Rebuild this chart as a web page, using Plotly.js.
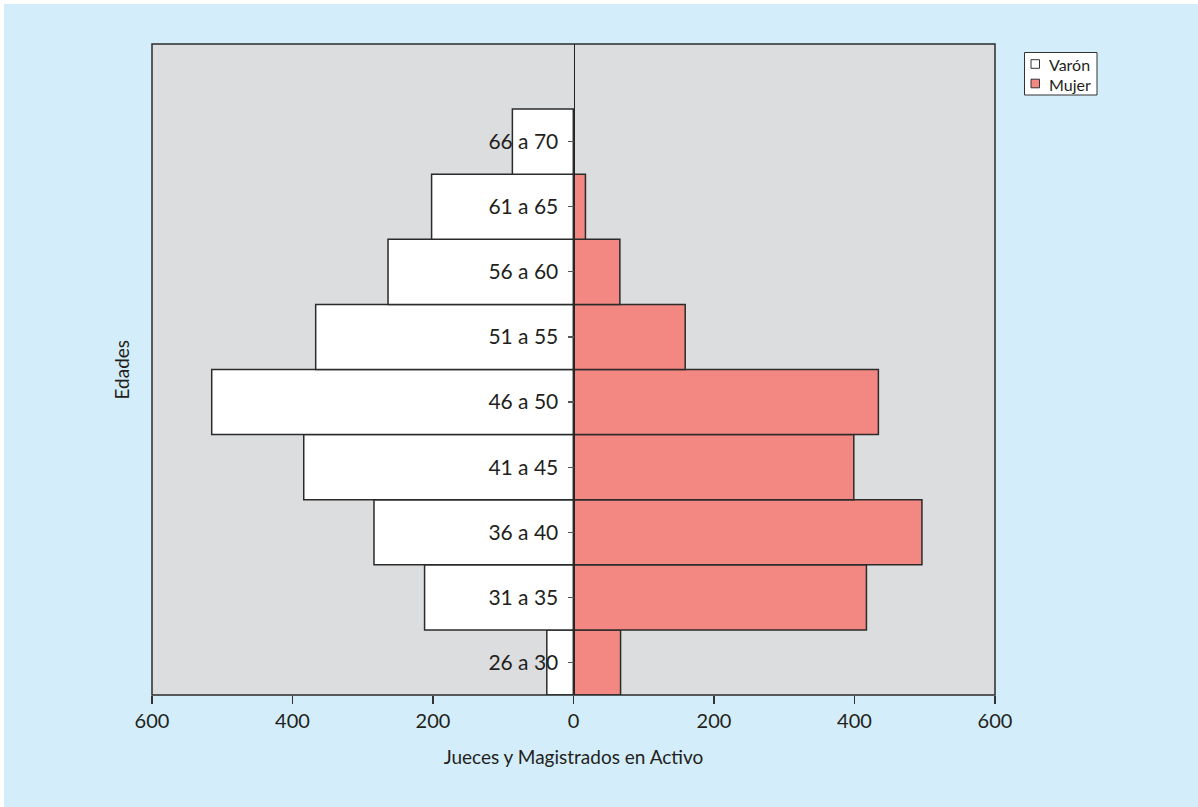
<!DOCTYPE html>
<html>
<head>
<meta charset="utf-8">
<script src="https://cdn.plot.ly/plotly-3.0.1.min.js"></script>
<style>
  html, body { margin: 0; padding: 0; background: #ffffff; }
  #chart { position: absolute; left: 4px; top: 4px; width: 1194px; height: 803px; }
</style>
</head>
<body>
<div id="chart"></div>
<script>
// Age groups (bottom to top)
const categories = ["26 a 30", "31 a 35", "36 a 40", "41 a 45", "46 a 50", "51 a 55", "56 a 60", "61 a 65", "66 a 70"];
// Counts
const varon = [38, 212, 284, 384, 515, 367, 264, 202, 87];
const mujer = [67, 417, 496, 399, 434, 159, 66, 17, 0];
// Axis ticks
const xTickVals = [-600, -400, -200, 0, 200, 400, 600];
const xTickText = ["600", "400", "200", "0", "200", "400", "600"];
// Legend entries
const legendNames = ["Varón", "Mujer"];
const legendColors = ["#ffffff", "#f38781"];

const fontFam = "Lato, 'Open Sans', sans-serif";
const ink = "#231f20";

const W = 1194, H = 803;
const M = { l: 148, r: 203, t: 40, b: 112 };
const pw = W - M.l - M.r, ph = H - M.t - M.b;
// pixel (within div) -> paper coords, for the hand-made legend box
const px = x => (x - M.l) / pw;
const py = y => 1 - (y - M.t) / ph;

const traces = [
  {
    type: "bar", orientation: "h", name: legendNames[0],
    y: categories, x: varon.map(v => -v),
    width: 1,
    marker: { color: legendColors[0], line: { color: "#2b2b2b", width: 1.5 } },
    hoverinfo: "skip"
  },
  {
    type: "bar", orientation: "h", name: legendNames[1],
    y: categories, x: mujer,
    width: 1,
    marker: { color: legendColors[1], line: { color: "#2b2b2b", width: 1.5 } },
    hoverinfo: "skip"
  }
];

const shapes = [
  { type: "rect", xref: "paper", yref: "paper", x0: 0, x1: 1, y0: 0, y1: 1,
    line: { color: "#2b2b2b", width: 1.5 }, fillcolor: "rgba(0,0,0,0)", layer: "above" },
  // legend box
  { type: "rect", xref: "paper", yref: "paper", x0: px(1020.5), x1: px(1093), y0: py(48.5), y1: py(91),
    line: { color: "#333333", width: 1 }, fillcolor: "#ffffff", layer: "above" }
];
const annotations = [
  { text: "Edades", xref: "paper", yref: "paper", x: -0.0356, y: 0.5,
    xanchor: "center", yanchor: "middle", textangle: -90, showarrow: false,
    font: { size: 19, color: ink, family: fontFam } }
];
const legendRowY = [60, 79.5];
legendNames.forEach((name, i) => {
  const cy = legendRowY[i];
  shapes.push({ type: "rect", xref: "paper", yref: "paper",
    x0: px(1027), x1: px(1035.5), y0: py(cy - 4.3), y1: py(cy + 4.3),
    line: { color: "#333333", width: 1 }, fillcolor: legendColors[i], layer: "above" });
  annotations.push({ text: name, xref: "paper", yref: "paper", x: px(1044), y: py(cy + 0.5),
    xanchor: "left", yanchor: "middle", showarrow: false, borderpad: 0,
    font: { size: 16, color: ink, family: fontFam } });
});

const layout = {
  width: W, height: H,
  margin: M,
  paper_bgcolor: "#d3eefa",
  plot_bgcolor: "#dcdddf",
  barmode: "relative",
  bargap: 0,
  font: { family: fontFam, color: ink, size: 20 },
  showlegend: false,
  xaxis: {
    range: [-600, 600],
    tickvals: xTickVals, ticktext: xTickText,
    ticks: "outside", ticklen: 8, tickwidth: 1.5, tickcolor: "#333",
    showgrid: false, zeroline: false,
    showline: false,
    tickfont: { size: 20, color: ink },
    title: { text: "Jueces y Magistrados en Activo", font: { size: 19, color: ink }, standoff: 19 },
    fixedrange: true
  },
  yaxis: {
    type: "category",
    categoryorder: "array", categoryarray: categories,
    range: [-0.5, 9.5],
    anchor: "free", position: 0.5, side: "left",
    showline: true, linecolor: "#222", linewidth: 1.8,
    ticks: "outside", ticklen: 6, tickwidth: 1.2, tickcolor: "#555",
    ticklabelstandoff: 5,
    showgrid: false, zeroline: false,
    tickfont: { size: 21, color: ink },
    layer: "above traces",
    fixedrange: true
  },
  shapes: shapes,
  annotations: annotations
};

Plotly.newPlot("chart", traces, layout, { displayModeBar: false, staticPlot: true });
</script>
</body>
</html>
